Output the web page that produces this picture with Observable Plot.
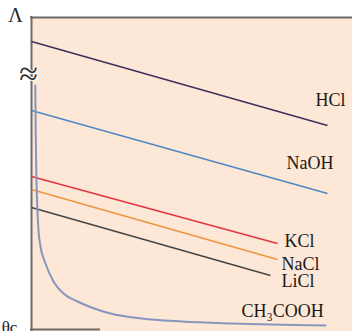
<!DOCTYPE html>
<html><head><meta charset="utf-8">
<script src="https://cdn.jsdelivr.net/npm/d3@7"></script>
<script src="https://cdn.jsdelivr.net/npm/@observablehq/plot@0.6"></script>
<style>body{margin:0;background:#fff;} svg{display:block;}</style>
</head><body>
<script>
// Data (x: √c in arbitrary units, y: Λ in arbitrary units)
const electrolytes = ["HCl","NaOH","KCl","NaCl","LiCl"];
const lineStartX = [0, 0, 0, 0, 0];
const lineEndX = [296, 296, 246, 246, 239];
const lineStartY = [290, 221, 155, 142, 124];
const lineEndY = [206, 138, 88, 72, 56];
const colors = ["#3b2f5c","#4f86c6","#e2343f","#ec9442","#444444"];
const aceticX = [3.8,4.2,5,6,7,9,14,22,32,46,60,79,110,150,200,294];
const aceticY = [246,200,150,120,101,85,68,50,38,30,24,18,13,10,8,6];
const labelText = ["HCl","NaOH","KCl","NaCl","LiCl","CH₃COOH"];
const labelX = [314, 302, 253, 250, 250, 210];
const labelY = [231, 168, 90, 67, 50, 20];
const labelAnchor = ["end","end","start","start","start","start"];

const segs = electrolytes.map((n,i)=>({name:n, x1:lineStartX[i], y1:lineStartY[i], x2:lineEndX[i], y2:lineEndY[i], c:colors[i]}));
const acetic = aceticX.map((x,i)=>({x, y:aceticY[i]}));
const labels = labelText.map((t,i)=>({t, x:labelX[i], y:labelY[i], a:labelAnchor[i]}));

const serif = "'Liberation Serif','DejaVu Serif',serif";
const chart = Plot.plot({
  width: 358, height: 331,
  marginLeft: 31, marginRight: 6, marginTop: 17, marginBottom: 0,
  x: {domain: [0, 321], axis: null},
  y: {domain: [0, 314], axis: null},
  style: {fontFamily: serif, background: "#fff", overflow: "visible"},
  marks: [
    Plot.rect([{}], {x1: 0, x2: 321, y1: 0, y2: 314, fill: "#fde7d6"}),
    Plot.ruleY([314], {x1: -1, x2: 321, stroke: "#6e6a68", strokeWidth: 2}),
    Plot.ruleX([0], {y1: 0, y2: 262, stroke: "#6e6a68", strokeWidth: 2}),
    Plot.ruleX([0], {y1: 250, y2: 315, stroke: "#6e6a68", strokeWidth: 2}),
    Plot.ruleY([2], {x1: -1, x2: 69, stroke: "#6e6a68", strokeWidth: 2}),
    Plot.text(["≈"], {x: -3, y: 257, fontSize: 34, fill: "#333", stroke: "#fff", strokeWidth: 2, paintOrder: "stroke"}),
    Plot.text(["Λ"], {x: -16, y: 316, fontSize: 20, fill: "#222"}),
    Plot.text(["θc"], {x: -22, y: 4, fontSize: 17, fill: "#222"}),
    Plot.link(segs, {x1: "x1", y1: "y1", x2: "x2", y2: "y2", stroke: "c", strokeWidth: 1.4}),
    Plot.line(acetic, {x: "x", y: "y", curve: "monotone-x", stroke: "#8597bd", strokeWidth: 2}),
    Plot.text(labels.filter(d => d.a === "end"), {x: "x", y: "y", text: "t", textAnchor: "end", fontSize: 18, fill: "#1a1a1a"}),
    Plot.text(labels.filter(d => d.a === "start"), {x: "x", y: "y", text: "t", textAnchor: "start", fontSize: 18, fill: "#1a1a1a"})
  ]
});
document.body.appendChild(chart);
</script>
</body></html>
